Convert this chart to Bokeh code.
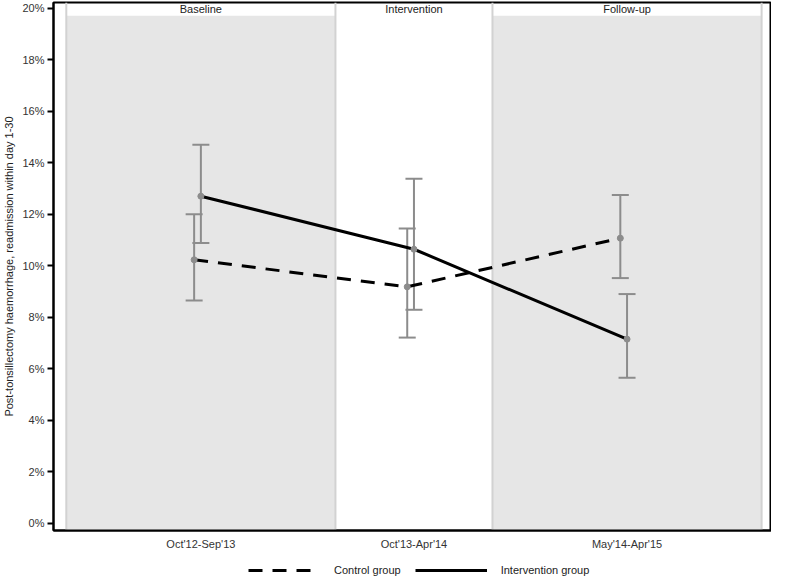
import numpy as np
from bokeh.plotting import figure
from bokeh.layouts import column
from bokeh.models import (ColumnDataSource, FixedTicker, PrintfTickFormatter, Range1d,
                          Legend, LegendItem)
from bokeh.embed import file_html
from bokeh.resources import INLINE
from bokeh.core.properties import value

# ---- data ----
periods = ["Baseline", "Intervention", "Follow-up"]
categories = ["Oct'12-Sep'13", "Oct'13-Apr'14", "May'14-Apr'15"]
period_months = [12, 7, 12]
shaded = [True, False, True]

control_rate = [10.23, 9.18, 11.07]
control_lower = [8.65, 7.21, 9.52]
control_upper = [12.00, 11.45, 12.75]

intervention_rate = [12.70, 10.64, 7.15]
intervention_lower = [10.88, 8.29, 5.65]
intervention_upper = [14.70, 13.38, 8.90]

y_ticks = list(range(0, 21, 2))
series_names = ["Control group", "Intervention group"]

# ---- derived positions ----
ends = np.cumsum(period_months).astype(float)
starts = ends - np.array(period_months)
centers = (starts + ends) / 2.0
ctrl_x = centers - 0.3
int_x = centers.copy()

FONT = "Liberation Sans"
GREY = "#8c8c8c"
DASH = "14 10"

p = figure(width=771, height=552, output_backend="svg", toolbar_location=None,
           x_range=Range1d(-0.57, float(ends[-1]) + 0.44),
           y_range=Range1d(-0.28, 20.22),
           min_border_left=0, min_border_right=0, min_border_top=2, min_border_bottom=0)

p.xgrid.visible = False
p.ygrid.visible = False
p.outline_line_color = "black"
p.outline_line_width = 2
p.background_fill_color = "white"

# shaded period bands
band_src = ColumnDataSource(dict(
    left=[s for s, sh in zip(starts, shaded) if sh],
    right=[e for e, sh in zip(ends, shaded) if sh],
))
p.quad(left="left", right="right", bottom=-0.28, top=19.71, source=band_src,
       fill_color="#e6e6e6", line_color=None)

# vertical separators
bounds = [float(starts[0])] + [float(e) for e in ends]
p.segment(x0=bounds, x1=bounds, y0=[-0.28] * len(bounds), y1=[20.22] * len(bounds),
          line_color="#d2d2d2", line_width=2)

# period labels
p.text(x=list(centers), y=[19.96] * 3, text=periods, text_align="center",
       text_baseline="middle", text_font_size="11px", text_font=value(FONT),
       text_color="#222222")

# error bars (vertical stem + caps)
ctrl_src = ColumnDataSource(dict(x=ctrl_x, y=control_rate, lo=control_lower, hi=control_upper))
int_src = ColumnDataSource(dict(x=int_x, y=intervention_rate, lo=intervention_lower, hi=intervention_upper))
for src in (ctrl_src, int_src):
    p.segment(x0="x", x1="x", y0="lo", y1="hi", source=src, line_color=GREY, line_width=2)
    p.scatter("x", "lo", source=src, marker="dash", size=17, line_color=GREY, line_width=2)
    p.scatter("x", "hi", source=src, marker="dash", size=17, line_color=GREY, line_width=2)

# lines
p.line("x", "y", source=ctrl_src, line_color="black", line_width=3, line_dash=DASH)
p.line("x", "y", source=int_src, line_color="black", line_width=3)

# points
p.scatter("x", "y", source=ctrl_src, size=6, fill_color=GREY, line_color=GREY)
p.scatter("x", "y", source=int_src, size=6, fill_color=GREY, line_color=GREY)

# axes
p.yaxis.ticker = FixedTicker(ticks=y_ticks)
p.yaxis.formatter = PrintfTickFormatter(format="%d%%")
p.yaxis.axis_label = "Post-tonsillectomy haemorrhage, readmission within day 1-30"
p.yaxis.axis_label_text_font_style = "normal"
p.yaxis.axis_label_text_font_size = "11px"
p.yaxis.axis_label_text_font = FONT
p.yaxis.axis_label_text_color = "#222222"
p.yaxis.axis_label_standoff = 4
p.yaxis.major_label_text_font_size = "11px"
p.yaxis.major_label_text_font = FONT
p.yaxis.major_label_text_color = "#333333"
p.yaxis.major_tick_out = 6
p.yaxis.major_tick_in = 0
p.yaxis.minor_tick_out = 0
p.yaxis.minor_tick_in = 0
p.yaxis.major_tick_line_width = 2
p.yaxis.axis_line_width = 2
p.yaxis.major_label_standoff = 3

p.xaxis.ticker = FixedTicker(ticks=list(centers))
p.xaxis.major_label_overrides = {float(c): lab for c, lab in zip(centers, categories)}
p.xaxis.major_label_text_font_size = "11px"
p.xaxis.major_label_text_font = FONT
p.xaxis.major_label_text_color = "#333333"
p.xaxis.major_tick_out = 0
p.xaxis.major_tick_in = 0
p.xaxis.minor_tick_out = 0
p.xaxis.minor_tick_in = 0
p.xaxis.axis_line_width = 2
p.xaxis.major_label_standoff = 7

# ---- legend strip ----
leg = figure(width=771, height=24, output_backend="svg", toolbar_location=None,
             x_axis_type=None, y_axis_type=None,
             x_range=Range1d(0, 1), y_range=Range1d(0, 1),
             min_border_left=0, min_border_right=0, min_border_top=0, min_border_bottom=0)
leg.outline_line_color = None
leg.xgrid.visible = False
leg.ygrid.visible = False
# legend-only renderers: placed outside the visible range
lr_ctrl = leg.line(x=[5, 6], y=[5, 5], line_color="black", line_width=3, line_dash=DASH)
lr_int = leg.line(x=[5, 6], y=[5, 5], line_color="black", line_width=3)
legend = Legend(items=[LegendItem(label=series_names[0], renderers=[lr_ctrl]),
                       LegendItem(label=series_names[1], renderers=[lr_int])],
                orientation="horizontal", location=(195, 0),
                glyph_width=72, glyph_height=12, label_text_font_size="11px",
                label_text_font=FONT, label_text_color="#222222",
                border_line_color=None, background_fill_alpha=0,
                spacing=14, padding=2, margin=0, label_standoff=14)
leg.add_layout(legend, "center")

open("out.html", "w").write(file_html(column(p, leg, spacing=0), INLINE))
